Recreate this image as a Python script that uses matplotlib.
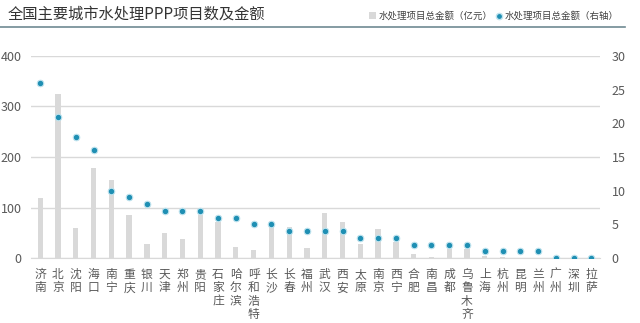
import matplotlib.pyplot as plt
import numpy as np
from matplotlib.lines import Line2D
from matplotlib.patches import Patch

plt.rcParams['font.family'] = ['Noto Sans CJK SC', 'DejaVu Sans']

cities = ["济南", "北京", "沈阳", "海口", "南宁", "重庆", "银川", "天津", "郑州", "贵阳",
          "石家庄", "哈尔滨", "呼和浩特", "长沙", "长春", "福州", "武汉", "西安", "太原", "南京",
          "西宁", "合肥", "南昌", "成都", "乌鲁木齐", "上海", "杭州", "昆明", "兰州", "广州",
          "深圳", "拉萨"]
amount = [118, 325, 59, 179, 154, 86, 27, 49, 38, 85,
          72, 21, 16, 63, 62, 19, 90, 72, 28, 57,
          32, 9, 2, 17, 17, 4, 2, 1, 1, 0,
          0, 0]
count = [26, 21, 18, 16, 10, 9, 8, 7, 7, 7,
         6, 6, 5, 5, 4, 4, 4, 4, 3, 3,
         3, 2, 2, 2, 2, 1, 1, 1, 1, 0,
         0, 0]

x = np.arange(len(cities))

fig = plt.figure(figsize=(6.4, 3.23), dpi=100)
ax = fig.add_axes([0.049, 0.201, 0.889, 0.626])
ax2 = ax.twinx()

ax.bar(x, amount, width=0.3, color="#d9d9d9", zorder=2)
ax2.scatter(x, count, s=22, color="#1f8fb3", edgecolors="#bfe3ee", linewidths=0.8, zorder=3)

ax.set_xlim(-0.5, 31.5)
ax.set_ylim(0, 400)
ax2.set_ylim(0, 30)
ax.set_yticks([0, 100, 200, 300, 400])
ax2.set_yticks([0, 5, 10, 15, 20, 25, 30])
ax.grid(axis="y", color="#d9d9d9", linewidth=1.0, zorder=0)
ax.set_axisbelow(True)

ax.set_xticks(x)
ax.set_xticklabels(["\n".join(c) for c in cities], fontsize=8.5, color="#595959",
                   linespacing=1.05, va="top")
ax.tick_params(axis="x", length=0, pad=7)
ax.tick_params(axis="y", length=0, labelsize=9, labelcolor="#595959", pad=7)
ax2.tick_params(axis="y", length=0, labelsize=9, labelcolor="#595959", pad=8)

for a in (ax, ax2):
    for s in a.spines.values():
        s.set_visible(False)
ax.spines["bottom"].set_visible(True)
ax.spines["bottom"].set_color("#d9d9d9")

fig.text(0.012, 0.956, "全国主要城市水处理PPP项目数及金额", fontsize=11, color="#333333",
         va="center", ha="left")
fig.add_artist(Line2D([0.0, 0.977], [0.916, 0.916], color="#6f8a92", linewidth=1.2))

handles = [Patch(facecolor="#d9d9d9", edgecolor="none", label="水处理项目总金额（亿元）"),
           Line2D([], [], marker="o", linestyle="none", markersize=4.5, color="#1f8fb3",
                  markeredgecolor="#bfe3ee", label="水处理项目总金额（右轴）")]
fig.legend(handles=handles, loc="center right", bbox_to_anchor=(0.98, 0.95), ncol=2,
           frameon=False, fontsize=6.8, handlelength=0.7, handleheight=0.7,
           handletextpad=0.3, columnspacing=0.3, labelcolor="#404040")

fig.savefig("out.png", dpi=100)
